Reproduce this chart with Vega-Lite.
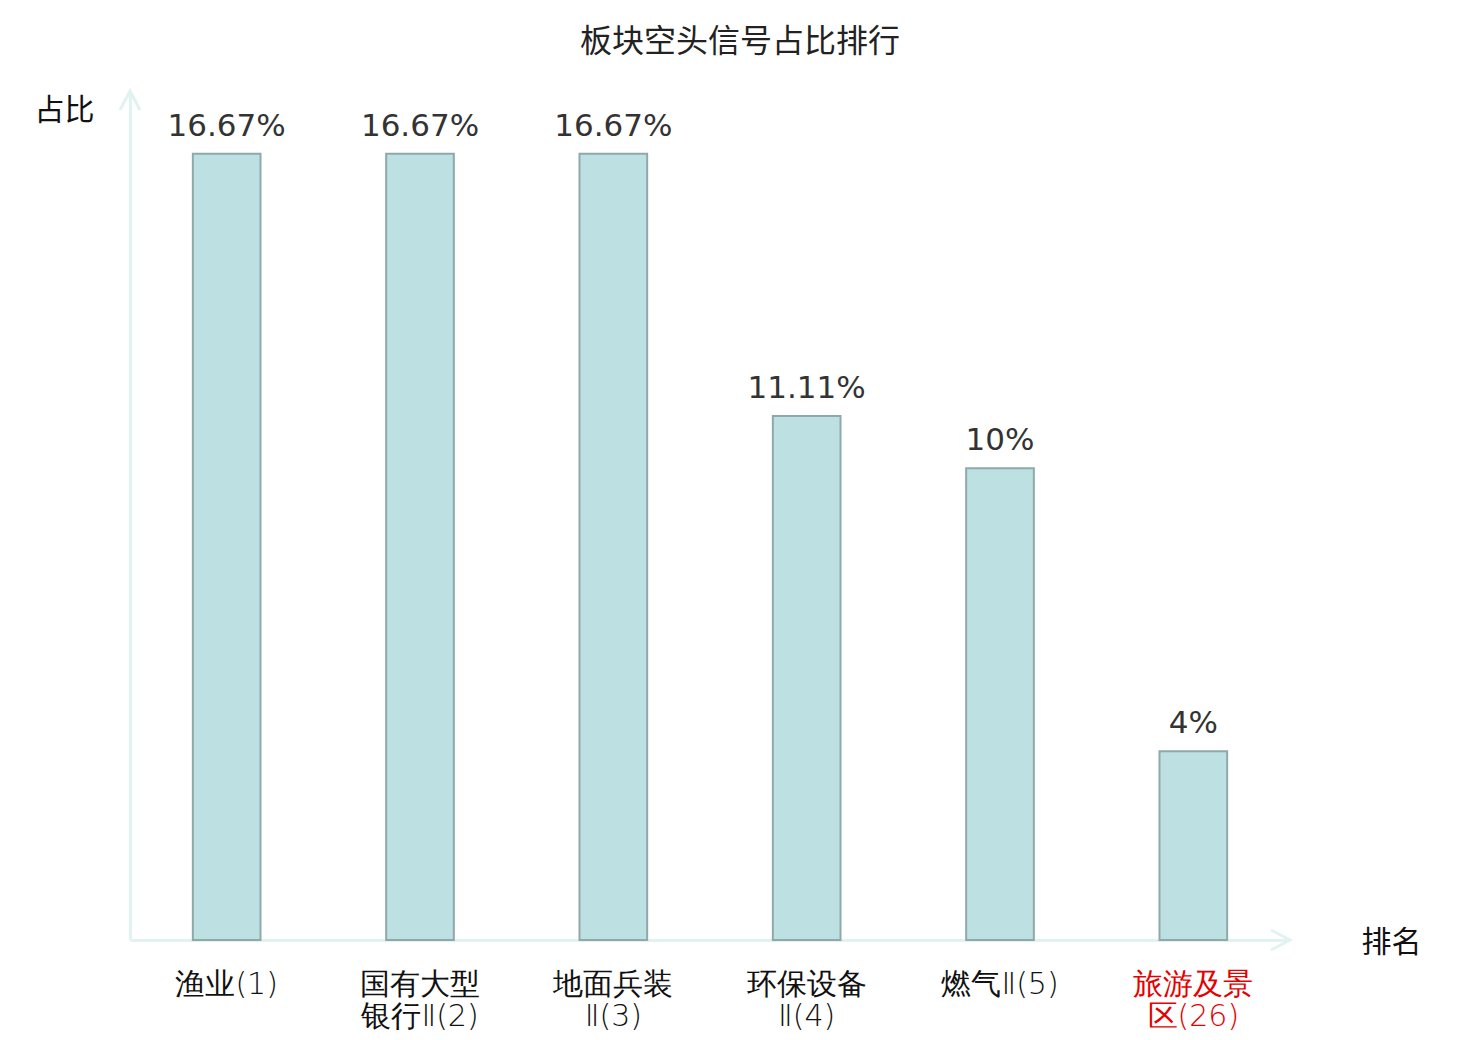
{
  "$schema": "https://vega.github.io/schema/vega-lite/v6.json",
  "width": 1160,
  "height": 849,
  "autosize": {"type": "none"},
  "padding": {"left": 130, "top": 91, "right": 190, "bottom": 100},
  "background": "white",
  "title": {
    "text": "板块空头信号占比排行",
    "font": "Noto Sans CJK SC",
    "fontSize": 32,
    "fontWeight": "normal",
    "color": "#222222",
    "anchor": "middle",
    "baseline": "alphabetic",
    "offset": 1,
    "dx": 30
  },
  "config": {
    "view": {"stroke": null},
    "font": "Noto Sans CJK SC"
  },
  "data": {
    "values": [
      {"name": "渔业(1)", "ratio": 0.1667},
      {"name": "国有大型银行Ⅱ(2)", "ratio": 0.1667},
      {"name": "地面兵装Ⅱ(3)", "ratio": 0.1667},
      {"name": "环保设备Ⅱ(4)", "ratio": 0.1111},
      {"name": "燃气Ⅱ(5)", "ratio": 0.10},
      {"name": "旅游及景区(26)", "ratio": 0.04}
    ]
  },
  "encoding": {
    "x": {
      "field": "name",
      "type": "nominal",
      "sort": null,
      "scale": {"paddingInner": 0.65, "paddingOuter": 0.325},
      "axis": {
        "title": "排名",
        "titleFont": "Noto Sans CJK SC",
        "titleFontSize": 30,
        "titleFontWeight": "normal",
        "titleColor": "#111111",
        "titleX": 1261,
        "titleY": 2,
        "titleAlign": "center",
        "titleBaseline": "middle",
        "labelAngle": 0,
        "labelFont": "DejaVu Sans",
        "labelFontWeight": 200,
        "labelFontSize": 30,
        "labelBaseline": "top",
        "labelPadding": 29,
        "labelLineHeight": 32,
        "labelColor": {
          "condition": {"test": "datum.value == '旅游及景区(26)'", "value": "#e60000"},
          "value": "#111111"
        },
        "labelExpr": "length(datum.label) >= 7 ? [substring(datum.label, 0, 4), substring(datum.label, 4)] : datum.label",
        "ticks": false,
        "domainColor": "#e0f3f1",
        "domainWidth": 3
      }
    }
  },
  "layer": [
    {
      "mark": {"type": "bar", "fill": "#bde0e3", "stroke": "#8fa9a9", "strokeWidth": 2},
      "encoding": {
        "y": {
          "field": "ratio",
          "type": "quantitative",
          "scale": {"domain": [0, 0.18]},
          "axis": {
            "title": "占比",
            "titleFont": "Noto Sans CJK SC",
            "titleFontSize": 30,
            "titleFontWeight": "normal",
            "titleColor": "#111111",
            "titleAngle": 0,
            "titleX": -66,
            "titleY": 19,
            "titleAlign": "center",
            "titleBaseline": "middle",
            "labels": false,
            "ticks": false,
            "grid": false,
            "domainColor": "#e0f3f1",
            "domainWidth": 3
          }
        }
      }
    },
    {
      "mark": {
        "type": "text",
        "font": "DejaVu Sans",
        "fontSize": 31,
        "color": "#333333",
        "baseline": "alphabetic",
        "dy": -18
      },
      "encoding": {
        "y": {"field": "ratio", "type": "quantitative"},
        "text": {"field": "ratio", "type": "quantitative", "format": ".2~%"}
      }
    },
    {
      "data": {"values": [{"end": "y"}]},
      "mark": {
        "type": "point",
        "shape": "M-1,1.9L0,0L1,1.9",
        "size": 400,
        "filled": false,
        "stroke": "#e0f3f1",
        "strokeWidth": 3,
        "opacity": 1
      },
      "encoding": {
        "x": {"value": 0},
        "y": {"datum": 0.18, "type": "quantitative"}
      }
    },
    {
      "data": {"values": [{"end": "x"}]},
      "mark": {
        "type": "point",
        "shape": "M-1.9,-1L0,0L-1.9,1",
        "size": 400,
        "filled": false,
        "stroke": "#e0f3f1",
        "strokeWidth": 3,
        "opacity": 1
      },
      "encoding": {
        "x": {"value": {"expr": "width"}},
        "y": {"datum": 0, "type": "quantitative"}
      }
    }
  ]
}
